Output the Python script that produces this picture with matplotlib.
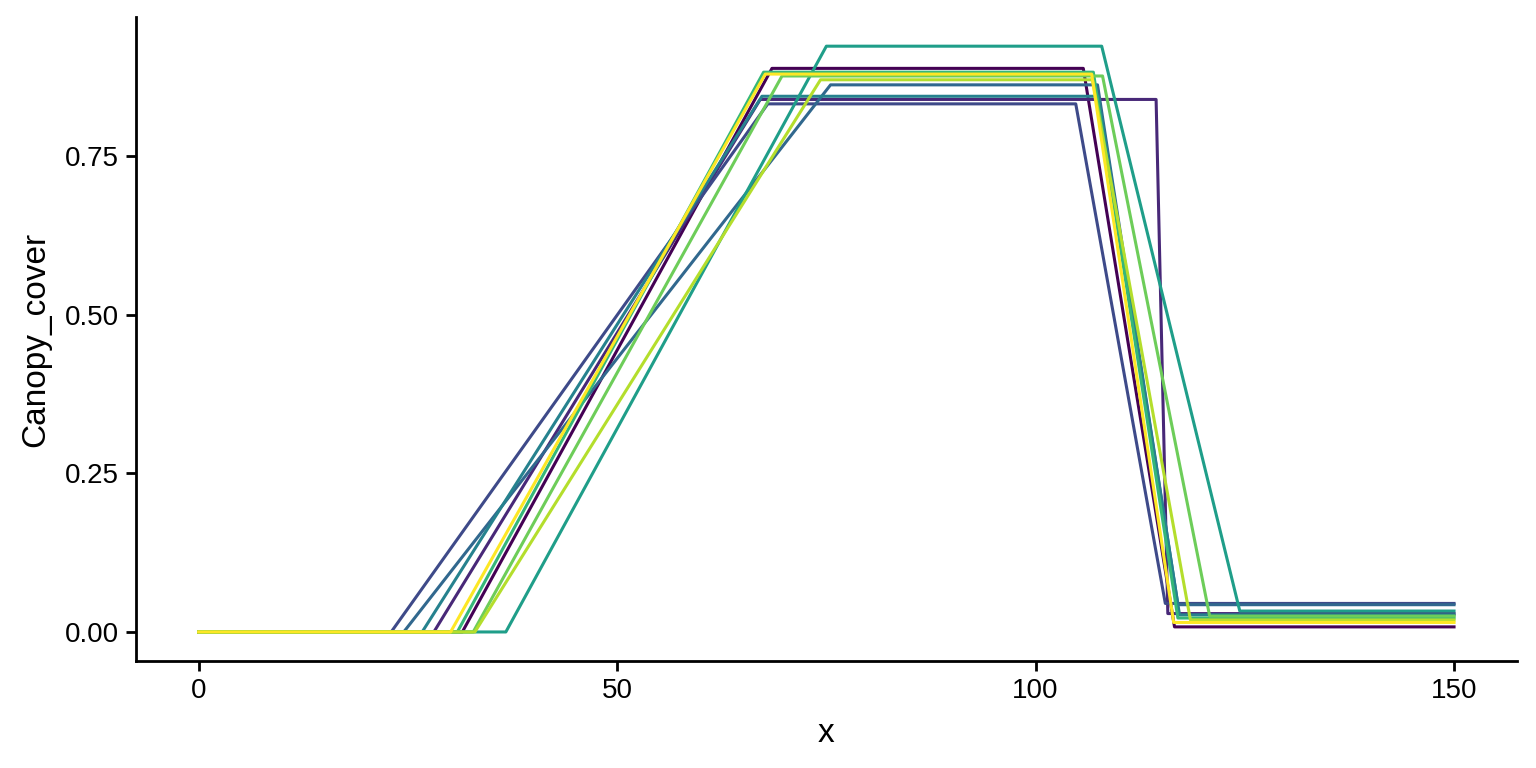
import matplotlib
matplotlib.use("Agg")
import matplotlib.pyplot as plt
import numpy as np

plt.rcParams['font.family'] = ['Liberation Sans', 'DejaVu Sans']

# breakpoints of each canopy curve (x where the rise starts/ends, plateau, fall)
rise_start = [31.5, 28.1, 23.0, 24.5, 26.7, 36.7, 30.9, 32.8, 33.0, 30.1]
rise_end = [68.5, 67.1, 68.0, 75.5, 67.3, 75.0, 67.5, 69.7, 74.3, 67.7]
plateau = [0.889, 0.840, 0.833, 0.863, 0.845, 0.924, 0.883, 0.877, 0.871, 0.880]
fall_start = [105.7, 114.4, 104.8, 107.4, 107.5, 107.9, 106.9, 108.0, 106.8, 106.7]
fall_end = [116.6, 115.8, 115.5, 117.0, 117.2, 124.4, 117.0, 120.8, 118.5, 116.5]
floor_value = [0.008, 0.029, 0.045, 0.043, 0.027, 0.033, 0.022, 0.025, 0.019, 0.015]
x_max = 150

colors = ["#440154", "#482878", "#3E4A89", "#31688E", "#26828E",
          "#1F9E89", "#35B779", "#6DCD59", "#B4DE2C", "#FDE725"]

fig = plt.figure(figsize=(7.68, 3.84), dpi=200)
ax = fig.add_axes([0.0885, 0.139, 0.899, 0.839])

for i in range(len(rise_start)):
    xs = [0, rise_start[i], rise_end[i], fall_start[i], fall_end[i], x_max]
    ys = [0, 0, plateau[i], plateau[i], floor_value[i], floor_value[i]]
    ax.plot(xs, ys, color=colors[i], lw=1.1, solid_joinstyle='round')

# ggplot style 5% expansion
ymax = max(plateau)
ax.set_xlim(-0.05 * x_max, x_max * 1.05)
ax.set_ylim(-0.05 * ymax, ymax * 1.05)
ax.set_xticks([0, 50, 100, 150])
ax.set_yticks([0, 0.25, 0.5, 0.75])
ax.set_yticklabels(["0.00", "0.25", "0.50", "0.75"])

for s in ['top', 'right']:
    ax.spines[s].set_visible(False)
for s in ['left', 'bottom']:
    ax.spines[s].set_linewidth(1.0)
ax.tick_params(length=3.5, width=1.0, labelsize=10, colors='black', pad=2.5)

ax.set_xlabel("x", fontsize=12, labelpad=5)
ax.set_ylabel("Canopy_cover", fontsize=12, labelpad=5)

fig.savefig("out.png", dpi=200)
